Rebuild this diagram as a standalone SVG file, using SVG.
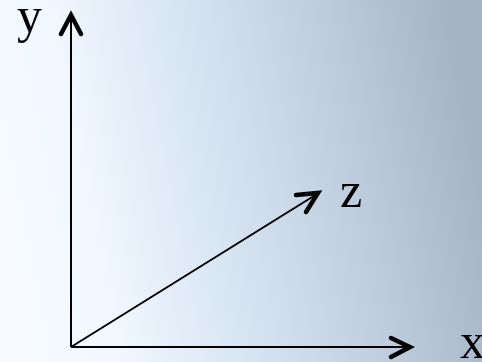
<svg xmlns="http://www.w3.org/2000/svg" width="482" height="362" viewBox="0 0 482 362">
<defs>
<linearGradient id="bg" x1="0" y1="0.55" x2="1" y2="0.4">
<stop offset="0" stop-color="#f7fbff"/>
<stop offset="0.18" stop-color="#f0f7ff"/>
<stop offset="0.45" stop-color="#d6e4f2"/>
<stop offset="0.75" stop-color="#bccbdc"/>
<stop offset="1" stop-color="#a4b2c4"/>
</linearGradient>
<style>
.axis{stroke:#000;stroke-width:2;fill:none}
.head{stroke:#000;stroke-width:4.5;fill:none;stroke-linecap:round;stroke-linejoin:miter}
.lbl{font-family:"Liberation Serif","Times New Roman",serif;font-size:50px;fill:#000}
</style>
</defs>
<rect width="482" height="362" fill="url(#bg)"/>
<g id="connectors">
<line class="axis" x1="71" y1="347" x2="71" y2="16"/>
<polyline class="head" points="61,34 71,15 81,34"/>
<line class="axis" x1="71" y1="347" x2="409" y2="347"/>
<polyline class="head" points="391,338 410,347 391,357"/>
<line class="axis" x1="71" y1="347" x2="317" y2="194"/>
<polyline class="head" points="296,195 318,193 306,212"/>
</g>
<g id="label-y"><text class="lbl" x="17" y="32">y</text></g>
<g id="label-z"><text class="lbl" x="340" y="207">z</text></g>
<g id="label-x"><text class="lbl" x="460" y="358">x</text></g>
</svg>
